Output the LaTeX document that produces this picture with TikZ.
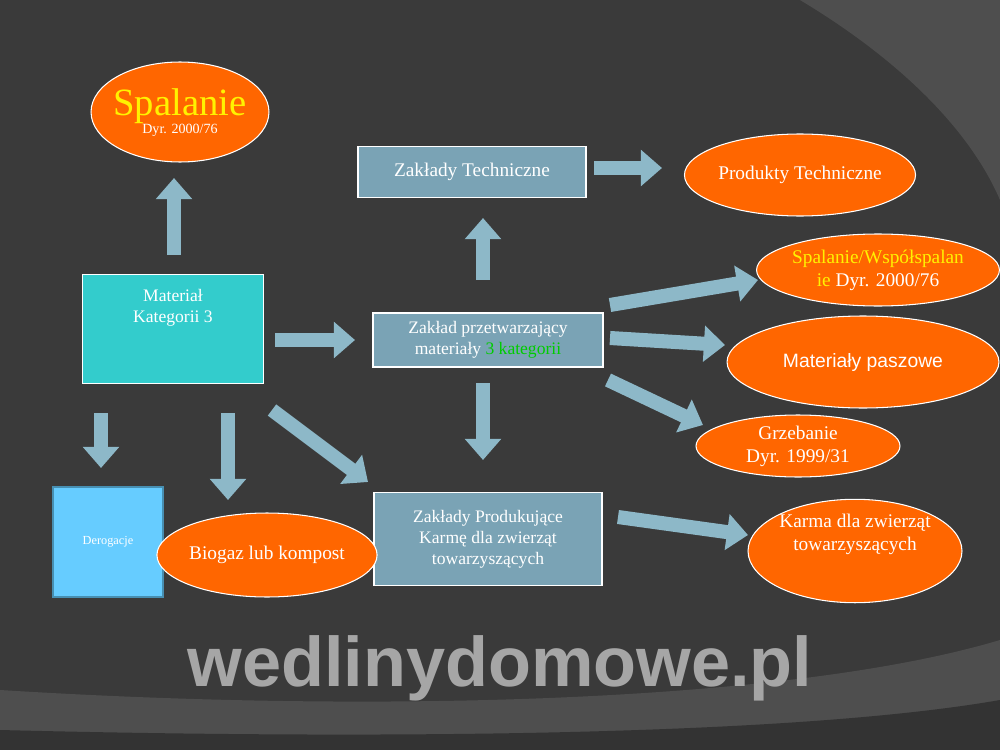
\documentclass[tikz,border=0pt]{standalone}
\usepackage{fontspec}
\setmainfont{Liberation Serif}
\newfontfamily\wmfont{Liberation Sans}
\usetikzlibrary{shapes.geometric,arrows.meta}
\definecolor{bgdark}{HTML}{3A3A3A}
\definecolor{bglight}{HTML}{4E4E4E}
\definecolor{oval}{HTML}{FF6600}
\definecolor{steel}{HTML}{7AA3B5}
\definecolor{matcyan}{HTML}{33CCCC}
\definecolor{derog}{HTML}{66CCFF}
\definecolor{arrowblue}{HTML}{8DB8C8}
\begin{document}
\begin{tikzpicture}[x=0.02cm,y=-0.02cm,font=\fontsize{11}{13}\selectfont,
  oval/.style = {ellipse, fill=oval, draw=white, line width=.6pt, text=white, inner sep=0pt, align=center},
  steelbox/.style = {rectangle, fill=steel, draw=white, line width=.8pt, text=white, align=center, inner sep=0pt},
  blockarrow/.style = {draw=arrowblue, line width=8pt, -{Triangle[length=12pt,width=20pt]}}]
  % background
  \fill[bgdark] (0,0) rectangle (1000,750);
  \fill[bglight] (800,0) .. controls (900,60) and (970,130) .. (1000,200) -- (1000,0) -- cycle;
  \fill[bglight] (0,690) .. controls (400,715) and (800,700) .. (1000,640) -- (1000,750) -- (0,750) -- cycle;
  \fill[black!80] (0,730) .. controls (400,740) and (800,735) .. (1000,700) -- (1000,750) -- (0,750) -- cycle;
  % nodes
  \node[oval, minimum width=3.56cm, minimum height=2cm] (spal) at (180,112) {};
  \node[text=yellow, font=\fontsize{22}{22}\selectfont] (spalt) at (180,106) {Spalanie};
  \node[text=white, font=\fontsize{8}{8}\selectfont] (spaldyr) at (180,130) {Dyr. 2000/76};
  \node[steelbox, minimum width=4.56cm, minimum height=1.02cm] (tech) at (472,172) {Zakłady Techniczne};
  \node[oval, minimum width=4.36cm, minimum height=1.64cm] (prod) at (800,175) {Produkty Techniczne};
  \node[oval, minimum width=4.8cm, minimum height=1.44cm] (wspol) at (878,270)
    {\textcolor{yellow}{Spalanie/Współspalan}\\\textcolor{yellow}{ie} Dyr. 2000/76};
  \node[oval, minimum width=5.44cm, minimum height=1.84cm, font=\wmfont\fontsize{11}{13}\selectfont] (pasz) at (863,362) {Materiały paszowe};
  \node[oval, minimum width=4.08cm, minimum height=1.24cm] (grzeb) at (798,446) {Grzebanie\\Dyr. 1999/31};
  \node[oval, minimum width=3.8cm, minimum height=2.04cm] (karma) at (855,551) {Karma dla zwierząt\\towarzyszących\\[8pt]};
  \node[rectangle, fill=matcyan, draw=white, line width=.6pt, text=white, align=center,
    minimum width=3.62cm, minimum height=2.18cm, font=\fontsize{10}{12}\selectfont] (mat) at (173,329) {Materiał\\Kategorii 3\\[14pt]};
  \node[steelbox, minimum width=4.6cm, minimum height=1.08cm, font=\fontsize{10}{12}\selectfont] (przetw) at (488,340)
    {Zakład przetwarzający\\materiały \textcolor{green!80!black}{3 kategorii}};
  \node[steelbox, minimum width=4.56cm, minimum height=1.86cm, font=\fontsize{10}{12}\selectfont] (karmprod) at (488,539)
    {Zakłady Produkujące\\Karmę dla zwierząt\\towarzyszących};
  \node[rectangle, fill=derog, draw=derog!70!black, line width=1.5pt, text=white, minimum width=2.2cm,
    minimum height=2.2cm, font=\fontsize{7}{8}\selectfont] (derog) at (108,542) {Derogacje};
  \node[oval, minimum width=3.92cm, minimum height=1.68cm] (biogaz) at (267,555) {Biogaz lub kompost};
  % arrows
  \coordinate (a1) at (174,255); \coordinate (b1) at (174,178);
  \coordinate (a2) at (594,168); \coordinate (b2) at (662,168);
  \coordinate (a3) at (483,280); \coordinate (b3) at (483,218);
  \coordinate (a4) at (275,340); \coordinate (b4) at (355,340);
  \coordinate (a5) at (610,305); \coordinate (b5) at (758,280);
  \coordinate (a6) at (610,338); \coordinate (b6) at (725,345);
  \coordinate (a7) at (608,380); \coordinate (b7) at (703,425);
  \coordinate (a8) at (483,383); \coordinate (b8) at (483,460);
  \coordinate (a9) at (101,413); \coordinate (b9) at (101,468);
  \coordinate (a10) at (228,413); \coordinate (b10) at (228,500);
  \coordinate (a11) at (272,410); \coordinate (b11) at (368,482);
  \coordinate (a12) at (618,517); \coordinate (b12) at (748,535);
  \foreach \i in {1,...,12} \draw[blockarrow] (a\i) -- (b\i);
  % watermark
  \node[text=gray!70, font=\wmfont\bfseries\fontsize{40}{40}\selectfont] (wm) at (500,668) {wedlinydomowe.pl};
\end{tikzpicture}
\end{document}
